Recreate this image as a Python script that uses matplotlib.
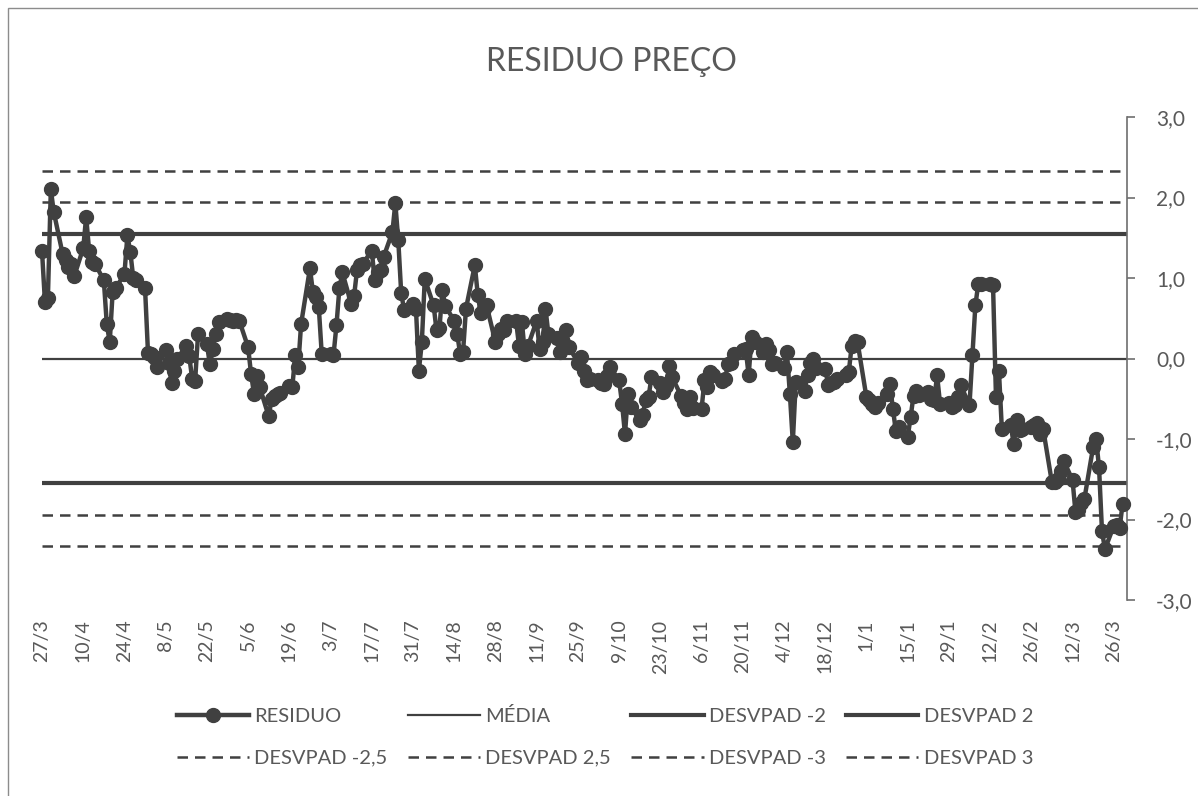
import numpy as np
import pandas as pd
import matplotlib
matplotlib.use("Agg")
import matplotlib.pyplot as plt
import matplotlib.dates as mdates
from matplotlib.patches import Rectangle

plt.rcParams['font.family'] = ['Lato', 'DejaVu Sans']

# residuo diario (dias uteis, seg-sex) a partir de 27/3
residuo = [
    1.34, 0.70, 0.75, 2.10, 1.82,
    1.30, 1.22, 1.14, 1.18, 1.03,
    1.37, 1.76, 1.34, 1.20, 1.18,
    0.97, 0.43, 0.20, 0.83, 0.87,
    1.05, 1.53, 1.32, 1.00, 0.98,
    0.87, 0.07, 0.06, 0.02, -0.10,
    0.10, -0.05, -0.30, -0.15, 0.00,
    0.16, 0.03, -0.25, -0.28, 0.30,
    0.18, -0.07, 0.12, 0.30, 0.45,
    0.49, 0.48, 0.47, 0.48, 0.47,
    0.14, -0.19, -0.44, -0.22, -0.36,
    -0.72, -0.50, -0.46, -0.44, -0.43,
    -0.34, -0.36, 0.04, -0.11, 0.43,
    1.12, 0.83, 0.76, 0.64, 0.06,
    0.05, 0.04, 0.41, 0.87, 1.07,
    0.68, 0.78, 1.10, 1.16, 1.18,
    1.34, 0.97, 1.07, 1.10, 1.26,
    1.57, 1.93, 1.47, 0.81, 0.60,
    0.68, 0.62, -0.15, 0.20, 0.99,
    0.66, 0.35, 0.38, 0.85, 0.65,
    0.47, 0.31, 0.06, 0.08, 0.62,
    1.16, 0.79, 0.56, 0.62, 0.66,
    0.20, 0.30, 0.37, 0.35, 0.47,
    0.47, 0.16, 0.45, 0.06, 0.15,
    0.47, 0.12, 0.20, 0.62, 0.30,
    0.26, 0.08, 0.20, 0.35, 0.14,
    -0.05, 0.02, -0.15, -0.27, -0.25,
    -0.27, -0.30, -0.32, -0.22, -0.11,
    -0.27, -0.56, -0.94, -0.44, -0.60,
    -0.77, -0.70, -0.52, -0.48, -0.23,
    -0.30, -0.42, -0.34, -0.09, -0.23,
    -0.46, -0.55, -0.63, -0.48, -0.61,
    -0.63, -0.27, -0.35, -0.17, -0.20,
    -0.28, -0.25, -0.07, -0.05, 0.05,
    0.10, 0.12, -0.21, 0.27, 0.20,
    0.08, 0.18, 0.10, -0.07, -0.05,
    -0.12, 0.08, -0.44, -1.04, -0.29,
    -0.40, -0.20, -0.05, 0.00, -0.12,
    -0.13, -0.33, -0.30, -0.29, -0.25,
    -0.20, -0.17, 0.16, 0.22, 0.20,
    -0.48, -0.52, -0.56, -0.60, -0.55,
    -0.44, -0.32, -0.63, -0.90, -0.85,
    -0.98, -0.73, -0.46, -0.40, -0.45,
    -0.42, -0.50, -0.52, -0.21, -0.56,
    -0.55, -0.60, -0.58, -0.48, -0.33,
    -0.58, 0.04, 0.66, 0.93, 0.93,
    0.92, 0.91, -0.48, -0.15, -0.88,
    -0.82, -1.06, -0.76, -0.89, -0.88,
    -0.85, -0.82, -0.80, -0.94, -0.87,
    -1.54, -1.54, -1.50, -1.40, -1.27,
    -1.51, -1.91, -1.88, -1.79, -1.75,
    -1.10, -1.00, -1.35, -2.14, -2.37,
    -2.08, -2.07, -2.10, -1.81,
]
media = 0.0
desvpad = 0.776

tick_labels = ['27/3', '10/4', '24/4', '8/5', '22/5', '5/6', '19/6', '3/7', '17/7',
               '31/7', '14/8', '28/8', '11/9', '25/9', '9/10', '23/10', '6/11',
               '20/11', '4/12', '18/12', '1/1', '15/1', '29/1', '12/2', '26/2',
               '12/3', '26/3']
y_ticks = [-3, -2, -1, 0, 1, 2, 3]
y_labels = ['-3,0', '-2,0', '-1,0', '0,0', '1,0', '2,0', '3,0']

dates = pd.bdate_range('2017-03-27', periods=len(residuo))
tick_dates = pd.date_range('2017-03-27', periods=len(tick_labels), freq='14D')

cor = '#404040'
txt = '#595959'

fig = plt.figure(figsize=(11.98, 7.96), dpi=100)
ax = fig.add_axes([42/1198, 1-600/796, (1127-42)/1198, (600-117)/796])

h_res, = ax.plot(dates, residuo, color=cor, lw=3.2, marker='o', ms=10,
                 clip_on=False, zorder=5, label='RESIDUO')
h_med = ax.axhline(media, color=cor, lw=1.6, label='MÉDIA')
h_m2 = ax.axhline(media - 2*desvpad, color=cor, lw=3, label='DESVPAD -2')
h_p2 = ax.axhline(media + 2*desvpad, color=cor, lw=3, label='DESVPAD 2')
dash = dict(color=cor, lw=1.8, dashes=(4.2, 2.8))
h_m25 = ax.axhline(media - 2.5*desvpad, label='DESVPAD -2,5', **dash)
h_p25 = ax.axhline(media + 2.5*desvpad, label='DESVPAD 2,5', **dash)
h_m3 = ax.axhline(media - 3*desvpad, label='DESVPAD -3', **dash)
h_p3 = ax.axhline(media + 3*desvpad, label='DESVPAD 3', **dash)

x0 = mdates.date2num(dates[0])
ax.set_xlim(x0, x0 + 368.5)
ax.set_ylim(-3, 3)

ax.yaxis.tick_right()
ax.set_yticks(y_ticks)
ax.set_yticklabels(y_labels)
ax.tick_params(axis='y', direction='out', length=6, width=1.2, color='#6e6e6e',
               labelcolor=txt, labelsize=15, pad=15)

ax.set_xticks(tick_dates)
ax.set_xticklabels(tick_labels, rotation=90)
ax.tick_params(axis='x', length=0, pad=14, labelcolor=txt, labelsize=14)

for s in ['top', 'left', 'bottom']:
    ax.spines[s].set_visible(False)
ax.spines['right'].set_color('#6e6e6e')
ax.spines['right'].set_linewidth(1.2)

fig.text(0.51, 1-62/796, 'RESIDUO PREÇO', ha='center', va='center',
         fontsize=23, color=txt)

hs = [h_res, h_m25, h_med, h_p25, h_m2, h_m3, h_p2, h_p3]
fig.legend(handles=hs, labels=[h.get_label() for h in hs], ncol=4,
           loc='center', bbox_to_anchor=(0.505, 1-737/796), frameon=False,
           fontsize=14.5, labelcolor=txt, handlelength=3.6, handletextpad=0.25,
           columnspacing=1.0, labelspacing=1.2)

fig.add_artist(Rectangle((8/1198, -0.1), 1.2, 1-8/796+0.1, transform=fig.transFigure,
                         fill=False, edgecolor='#8c8c8c', lw=1))

fig.savefig('out.png', dpi=100)
